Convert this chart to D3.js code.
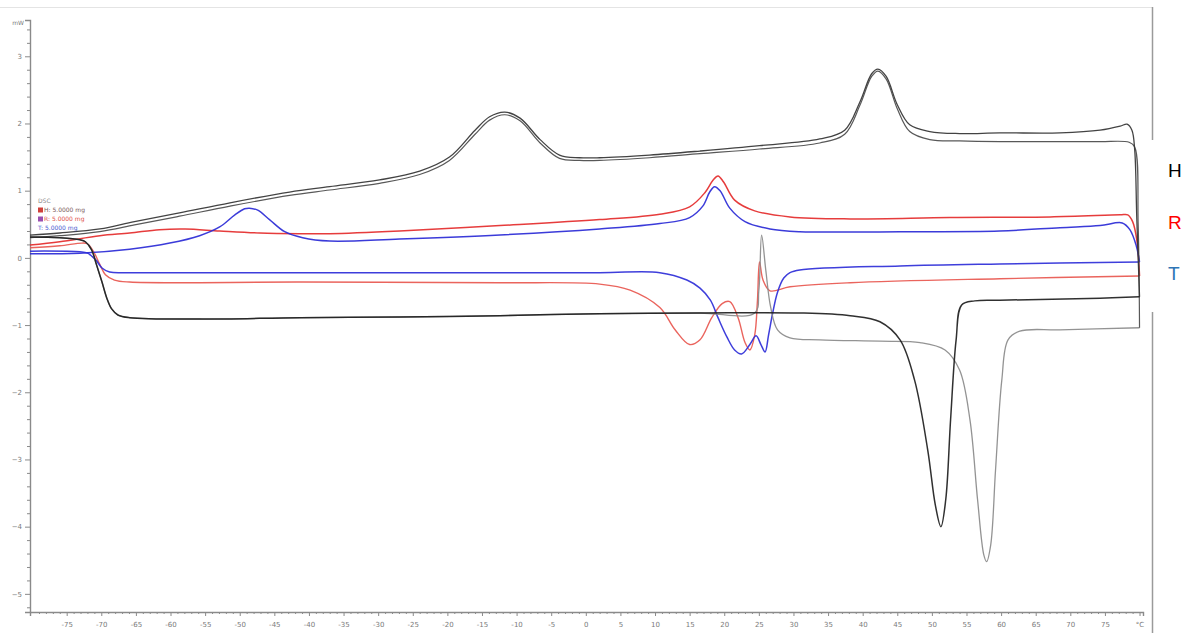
<!DOCTYPE html>
<html>
<head>
<meta charset="utf-8">
<script src="https://cdn.jsdelivr.net/npm/d3@7"></script>
<style>
  html, body { margin: 0; padding: 0; background: #fff; }
  svg { display: block; }
  .tick text { font-family: "DejaVu Sans", sans-serif; }
</style>
</head>
<body>
<svg id="chart" width="1195" height="633"></svg>
<script>
// DSC thermogram: three samples (H, R, T), heating and cooling scans, heat flow in mW vs temperature in °C

// Temperature ticks (°C); the last tick carries the unit
const xTicks = [-75, -70, -65, -60, -55, -50, -45, -40, -35, -30, -25, -20, -15, -10, -5, 0, 5, 10, 15, 20, 25, 30, 35, 40, 45, 50, 55, 60, 65, 70, 75, 80];
const yTicks = [3, 2, 1, 0, -1, -2, -3, -4, -5];

// Sample H: cooling scan (two overlapping runs)
const hCoolT = [-80.3, -76, -70.2, -65.2, -58.7, -51.4, -42.8, -37, -29.8, -24, -19.7, -16, -13.9, -11.7, -9.5, -6.6, -3.8, -0.9, 2, 9.2, 16.5, 25.1, 33.8, 37.4, 39.6, 41.3, 42.2, 43.4, 45, 46.8, 49.7, 54, 59.8, 68.5, 74.3, 77.2, 78.2, 78.9, 79.3, 79.6, 80];
const hCoolV = [0.34, 0.37, 0.43, 0.54, 0.67, 0.82, 0.98, 1.06, 1.16, 1.29, 1.50, 1.90, 2.10, 2.17, 2.08, 1.76, 1.53, 1.49, 1.49, 1.53, 1.59, 1.67, 1.77, 1.90, 2.32, 2.74, 2.81, 2.70, 2.28, 1.98, 1.88, 1.85, 1.86, 1.86, 1.90, 1.96, 1.99, 1.90, 1.61, 0.6, -0.58];
const hCool2T = [-80.3, -76, -70.2, -65.2, -58.7, -51.4, -42.8, -37, -29.8, -24, -19.7, -16, -13.9, -11.7, -9.5, -6.6, -3.8, -0.9, 2, 9.2, 16.5, 25.1, 33.8, 37.4, 39.6, 41.3, 42.2, 43.4, 45, 46.8, 49.7, 54, 59.8, 68.5, 74.3, 78.5, 79.3, 79.8, 80];
const hCool2V = [0.30, 0.33, 0.39, 0.49, 0.62, 0.77, 0.93, 1.01, 1.11, 1.24, 1.45, 1.84, 2.05, 2.13, 2.04, 1.71, 1.48, 1.45, 1.45, 1.49, 1.55, 1.62, 1.71, 1.84, 2.27, 2.70, 2.78, 2.66, 2.22, 1.88, 1.76, 1.74, 1.73, 1.73, 1.73, 1.72, 1.65, 0.5, -1.04];

// Sample H: first heating scan
const hHeatT = [-80.3, -76, -73.1, -72.3, -71.4, -70.7, -69.9, -69.2, -68.5, -67.6, -65.9, -55.8, -41.3, -26.9, -12.4, 2, 16.5, 30.9, 38.2, 42.5, 45.4, 47.5, 49.4, 50.5, 51.3, 52, 52.7, 53.5, 54.3, 56.2, 59.8, 74.3, 80];
const hHeatV = [0.31, 0.30, 0.27, 0.24, 0.12, -0.10, -0.36, -0.60, -0.76, -0.85, -0.89, -0.91, -0.89, -0.88, -0.86, -0.83, -0.82, -0.82, -0.86, -0.95, -1.22, -1.82, -2.86, -3.68, -4.00, -3.60, -2.41, -1.22, -0.70, -0.64, -0.63, -0.60, -0.58];

// Sample H: second heating scan
const hHeat2T = [-80.3, -76, -73.1, -72.3, -71.4, -70.7, -69.9, -69.2, -68.5, -67.6, -65.9, -55.8, -41.3, -26.9, -12.4, 2, 16.5, 24.4, 25, 25.4, 26, 26.7, 27.7, 29.5, 33.8, 42.5, 48.3, 51.9, 54, 55.5, 56.6, 57.5, 57.9, 58.5, 59.2, 60.1, 61, 62.7, 68.5, 80];
const hHeat2V = [0.31, 0.30, 0.27, 0.24, 0.12, -0.10, -0.36, -0.60, -0.76, -0.85, -0.89, -0.91, -0.89, -0.88, -0.86, -0.83, -0.82, -0.82, -0.48, 0.34, -0.18, -0.73, -1.07, -1.19, -1.22, -1.24, -1.26, -1.37, -1.67, -2.41, -3.60, -4.42, -4.52, -4.27, -3.15, -1.82, -1.22, -1.09, -1.07, -1.04];

// Sample R
const rCoolT = [-80.3, -76, -70.2, -65.9, -61.6, -57.9, -52.9, -47.1, -41.3, -37, -26.9, -12.4, 2, 10.7, 15, 17.2, 18.4, 19.1, 19.9, 21.5, 24.4, 29.5, 38.2, 52.6, 67.1, 77.2, 78.3, 79, 79.6, 80];
const rCoolV = [0.19, 0.24, 0.33, 0.37, 0.42, 0.43, 0.40, 0.37, 0.36, 0.36, 0.40, 0.48, 0.57, 0.65, 0.76, 0.97, 1.16, 1.22, 1.13, 0.86, 0.70, 0.61, 0.58, 0.60, 0.61, 0.64, 0.64, 0.54, 0.27, -0.27];
const rHeatT = [-80.3, -76, -72.8, -72, -71.1, -70.2, -69.4, -68.1, -65.9, -41.3, -12.4, 2, 6.4, 10.7, 12.9, 15, 16.5, 18.2, 19.7, 20.8, 22, 23, 23.7, 24.4, 24.8, 25.1, 25.6, 26.6, 29.5, 38.2, 59.8, 80];
const rHeatV = [0.15, 0.18, 0.22, 0.21, 0.09, -0.10, -0.25, -0.33, -0.36, -0.36, -0.37, -0.39, -0.48, -0.74, -1.07, -1.29, -1.22, -0.89, -0.68, -0.65, -0.89, -1.26, -1.37, -1.15, -0.63, -0.06, -0.33, -0.49, -0.43, -0.37, -0.31, -0.27];

// Sample T
const tCoolT = [-80.3, -73.1, -65.9, -60.1, -55.8, -52.9, -50.7, -49.3, -48.6, -47.4, -45.7, -43.5, -40.9, -37, -26.9, -12.4, 2, 10.7, 15, 16.9, 17.9, 18.6, 19.4, 20.8, 23, 26.6, 30.9, 45.4, 59.8, 68.5, 74.3, 77.5, 78.6, 79.5, 80];
const tCoolV = [0.06, 0.07, 0.13, 0.22, 0.33, 0.46, 0.64, 0.73, 0.74, 0.71, 0.57, 0.39, 0.30, 0.25, 0.28, 0.34, 0.43, 0.51, 0.60, 0.77, 0.98, 1.06, 1.00, 0.74, 0.54, 0.43, 0.39, 0.39, 0.40, 0.45, 0.48, 0.52, 0.42, 0.19, -0.06];
const tHeatT = [-80.3, -73.1, -72, -70.8, -69.9, -68.8, -65.9, -26.9, 2, 10.7, 14.6, 16.5, 18, 19.1, 20.4, 21.5, 22.5, 23.7, 24.6, 25.3, 25.9, 26.4, 27, 27.7, 28.6, 29.5, 30.9, 45.4, 59.8, 80];
const tHeatV = [0.10, 0.09, 0.07, -0.03, -0.15, -0.21, -0.22, -0.22, -0.22, -0.22, -0.33, -0.45, -0.63, -0.89, -1.18, -1.37, -1.43, -1.29, -1.16, -1.29, -1.40, -1.15, -0.82, -0.51, -0.30, -0.22, -0.18, -0.12, -0.09, -0.06];

const series = [
  { t: rCoolT, v: rCoolV, color: "#e42b2b", width: 1.5 },
  { t: rHeatT, v: rHeatV, color: "#e8574f", width: 1.4 },
  { t: tCoolT, v: tCoolV, color: "#2a2ad6", width: 1.5 },
  { t: tHeatT, v: tHeatV, color: "#2e2ed8", width: 1.5 },
  { t: hHeat2T, v: hHeat2V, color: "#8a8a8a", width: 1.3 },
  { t: hCool2T, v: hCool2V, color: "#4a4a4a", width: 1.2 },
  { t: hCoolT, v: hCoolV, color: "#333333", width: 1.3 },
  { t: hHeatT, v: hHeatV, color: "#1e1e1e", width: 1.5 }
];

const legendRows = [
  { text: "DSC", color: "#8a8a8a", icon: null },
  { text: "H: 5.0000 mg", color: "#7a5a5a", icon: "#d0403a" },
  { text: "R: 5.0000 mg", color: "#e0504a", icon: "#9a4fb0" },
  { text: "T: 5.0000 mg", color: "#4a5ad0", icon: null }
];

const sideLabels = [
  { text: "H", color: "#000000" },
  { text: "R", color: "#ff0000" },
  { text: "T", color: "#2e75b6" }
];

const svg = d3.select("#chart");
const W = 1195, H = 633;

const x = d3.scaleLinear().domain([-80.3, 80.5]).range([30, 1143]);
const y = d3.scaleLinear().domain([-5.27, 3.54]).range([612, 20]);

// frame lines
svg.append("line").attr("x1", 0).attr("x2", 1152).attr("y1", 7.5).attr("y2", 7.5)
  .attr("stroke", "#e4e4e4").attr("stroke-width", 1);
svg.append("line").attr("x1", 1152.5).attr("x2", 1152.5).attr("y1", 7).attr("y2", H)
  .attr("stroke", "#9a9a9a").attr("stroke-width", 1.5);

// minor ticks
const xMinor = d3.range(-80, 81, 1).filter(d => d % 5 !== 0);
const yMinor = d3.range(-26, 18, 1).map(d => d / 5).filter(d => Math.abs(d - Math.round(d)) > 1e-6);

const gx = svg.append("g").attr("transform", "translate(0,612)");
gx.call(d3.axisBottom(x).tickValues(xMinor).tickSize(2).tickFormat(""));
gx.call(g => g.selectAll(".domain").remove());
const gxMaj = svg.append("g").attr("transform", "translate(0,612)")
  .call(d3.axisBottom(x).tickValues(xTicks).tickSize(4).tickPadding(6)
    .tickFormat(d => d === 80 ? "°C" : String(d)));
[gx, gxMaj].forEach(g => {
  g.selectAll(".tick line").attr("stroke", "#8a8a8a");
  g.selectAll(".domain").attr("stroke", "#8a8a8a").attr("stroke-width", 1.4);
});
gxMaj.selectAll(".tick text").attr("fill", "#7a7a7a").attr("font-size", 7);

const gy = svg.append("g").attr("transform", "translate(30,0)");
gy.call(d3.axisLeft(y).tickValues(yMinor).tickSize(3).tickFormat(""));
gy.call(g => g.selectAll(".domain").remove());
const gyMaj = svg.append("g").attr("transform", "translate(30,0)")
  .call(d3.axisLeft(y).tickValues(yTicks).tickSize(5).tickPadding(3).tickFormat(d3.format("d")));
[gy, gyMaj].forEach(g => {
  g.selectAll(".tick line").attr("stroke", "#8a8a8a");
  g.selectAll(".domain").attr("stroke", "#8a8a8a").attr("stroke-width", 1.4);
});
gyMaj.selectAll(".tick text").attr("fill", "#7a7a7a").attr("font-size", 7);
svg.append("text").attr("x", 24).attr("y", y(3.5)).attr("dy", "0.32em")
  .attr("text-anchor", "end").attr("font-family", "DejaVu Sans, sans-serif")
  .attr("font-size", 6).attr("fill", "#7a7a7a").text("mW");

// curves
const line = d3.line()
  .x(d => x(d[0]))
  .y(d => y(d[1]))
  .curve(d3.curveCatmullRom.alpha(0.5));

svg.append("g").selectAll("path").data(series).join("path")
  .attr("d", s => line(s.t.map((t, i) => [t, s.v[i]])))
  .attr("fill", "none")
  .attr("stroke", s => s.color)
  .attr("stroke-width", s => s.width)
  .attr("stroke-linejoin", "round")
  .attr("opacity", 0.92);

// legend block
const lg = svg.append("g").attr("transform", "translate(38,201)")
  .attr("font-family", "DejaVu Sans, sans-serif").attr("font-size", 6);
legendRows.forEach((r, i) => {
  const row = lg.append("g").attr("transform", `translate(0,${i * 9})`);
  if (r.icon) row.append("rect").attr("x", 0).attr("y", -2.5).attr("width", 5).attr("height", 5).attr("fill", r.icon);
  row.append("text").attr("x", r.icon ? 6 : 0).attr("y", 0).attr("dy", "0.35em")
    .attr("fill", r.color).text(r.text);
});

// side label panel
svg.append("rect").attr("x", 1147).attr("y", 140).attr("width", W - 1147).attr("height", 172).attr("fill", "#fff");
svg.append("g").selectAll("text").data(sideLabels).join("text")
  .attr("x", 1168).attr("y", (d, i) => 177 + i * 51.5)
  .attr("font-family", "Liberation Sans, Arial, sans-serif")
  .attr("font-size", 19)
  .attr("fill", d => d.color)
  .text(d => d.text);
</script>
</body>
</html>
